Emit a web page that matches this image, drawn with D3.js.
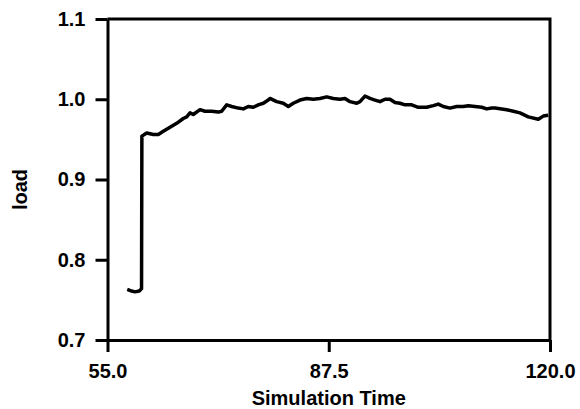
<!DOCTYPE html>
<html>
<head>
<meta charset="utf-8">
<script src="https://cdn.jsdelivr.net/npm/d3@7"></script>
<style>
  body { margin: 0; background: #fff; }
  text { font-family: "Liberation Sans", Arial, Helvetica, sans-serif; font-weight: bold; }
</style>
</head>
<body>
<div id="chart"></div>
<script>
// Data: simulation time vs load
var times = [57.9, 58.55, 59.04, 59.67, 60.0, 60.05, 60.76, 61.73, 62.46, 63.2, 64.18, 65.16, 66.13, 66.63, 67.12,
  67.6, 68.59, 69.32, 70.31, 71.28, 71.77, 72.51, 73.24, 74.21, 74.95, 75.68, 76.42, 77.15, 77.89, 78.62,
  78.87, 79.85, 80.82, 81.56, 82.29, 83.28, 84.26, 85.23, 86.21, 87.2, 88.17, 89.15, 89.89, 90.62, 91.61,
  92.09, 92.82, 93.56, 94.29, 95.03, 95.76, 96.5, 97.23, 97.97, 98.7, 99.68, 100.65, 101.89, 102.86, 103.59,
  104.33, 105.31, 106.29, 107.26, 108.0, 108.98, 109.97, 110.7, 111.44, 111.92, 113.64, 114.61, 115.59,
  116.81, 118.28, 119.01, 119.75];
var loads = [0.763, 0.761, 0.760, 0.761, 0.764, 0.954, 0.958, 0.956, 0.956, 0.960, 0.965, 0.970, 0.976, 0.978, 0.983,
  0.981, 0.987, 0.985, 0.985, 0.984, 0.985, 0.993, 0.991, 0.989, 0.988, 0.991, 0.990, 0.993, 0.995, 0.999,
  1.001, 0.997, 0.995, 0.991, 0.995, 0.999, 1.001, 1.000, 1.001, 1.003, 1.001, 1.000, 1.001, 0.997, 0.995,
  0.997, 1.004, 1.001, 0.999, 0.997, 1.000, 1.000, 0.996, 0.995, 0.993, 0.993, 0.990, 0.990, 0.992, 0.994,
  0.991, 0.989, 0.991, 0.991, 0.992, 0.991, 0.990, 0.988, 0.989, 0.989, 0.987, 0.985, 0.983,
  0.978, 0.975, 0.979, 0.980];
var xTicks = [55.0, 87.5, 120.0];
var yTicks = [0.7, 0.8, 0.9, 1.0, 1.1];

var margin = {top: 19, right: 30, bottom: 69, left: 107.5},
    width = 580 - margin.left - margin.right,
    height = 409 - margin.top - margin.bottom;

var svg = d3.select("#chart").append("svg")
    .attr("width", 580)
    .attr("height", 409)
  .append("g")
    .attr("transform", "translate(" + margin.left + "," + margin.top + ")");

var x = d3.scaleLinear().domain([55, 120]).range([0, width]);
var y = d3.scaleLinear().domain([0.7, 1.1]).range([height, 0]);

// frame (top + right)
svg.append("path")
    .attr("d", "M0,0H" + width + "V" + height)
    .attr("fill", "none")
    .attr("stroke", "#000")
    .attr("stroke-width", 3);

var xAxis = svg.append("g")
    .attr("transform", "translate(0," + height + ")")
    .call(d3.axisBottom(x).tickValues(xTicks).tickFormat(d3.format(".1f")).tickSizeInner(12).tickSizeOuter(0).tickPadding(12));

var yAxis = svg.append("g")
    .call(d3.axisLeft(y).tickValues(yTicks).tickFormat(d3.format(".1f")).tickSizeInner(12).tickSizeOuter(0).tickPadding(10));

[xAxis, yAxis].forEach(function(a) {
  a.select(".domain").attr("stroke-width", 3);
  a.selectAll(".tick line").attr("stroke-width", 3);
  a.selectAll(".tick text").attr("font-size", 20).attr("fill", "#000");
});

var line = d3.line()
    .x(function(d, i) { return x(times[i]); })
    .y(function(d) { return y(d); });

svg.append("path")
    .datum(loads)
    .attr("d", line)
    .attr("fill", "none")
    .attr("stroke", "#000")
    .attr("stroke-width", 3.5)
    .attr("stroke-linejoin", "round");

// axis titles
svg.append("text")
    .attr("x", width / 2)
    .attr("y", height + 65)
    .attr("text-anchor", "middle")
    .attr("font-size", 20)
    .text("Simulation Time");

svg.append("text")
    .attr("transform", "translate(" + (-81) + "," + (height / 2 + 10) + ") rotate(-90)")
    .attr("text-anchor", "middle")
    .attr("font-size", 20)
    .text("load");
</script>
</body>
</html>
